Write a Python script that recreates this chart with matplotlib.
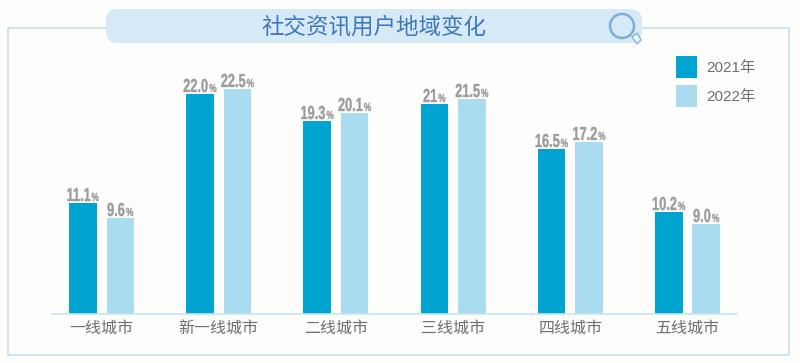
import matplotlib
matplotlib.use("Agg")
import matplotlib.pyplot as plt
from matplotlib.patches import FancyBboxPatch, Rectangle, Circle, Polygon
from matplotlib.patheffects import AbstractPathEffect
from matplotlib.transforms import Affine2D

W, H = 800, 363
categories = ["一线城市", "新一线城市", "二线城市", "三线城市", "四线城市", "五线城市"]
series_names = ["2021年", "2022年"]
values_2021 = [11.1, 22.0, 19.3, 21.0, 16.5, 10.2]
values_2022 = [9.6, 22.5, 20.1, 21.5, 17.2, 9.0]
labels_2021 = ["11.1", "22.0", "19.3", "21", "16.5", "10.2"]
labels_2022 = ["9.6", "22.5", "20.1", "21.5", "17.2", "9.0"]
title = "社交资讯用户地域变化"

BG = "#fdfdfb"
C1 = "#00a4d0"
C2 = "#aadcef"
FRAME = "#c5dff0"
GREY = "#9c9a9c"
cjk = ["Noto Sans CJK SC", "DejaVu Sans"]


class Tall(AbstractPathEffect):
    """Stretch glyphs upward from the baseline to imitate a condensed bold face."""
    def __init__(self, sy, stroke=0.25):
        super().__init__()
        self.sy = sy
        self.stroke = stroke

    def draw_path(self, renderer, gc, tpath, affine, rgbFace=None):
        gc0 = renderer.new_gc()
        gc0.copy_properties(gc)
        gc0.set_linewidth(self.stroke)
        gc0.set_foreground(rgbFace)
        renderer.draw_path(gc0, tpath, Affine2D().scale(1, self.sy) + affine, rgbFace)
        gc0.restore()


fig = plt.figure(figsize=(W / 100, H / 100), dpi=100, facecolor=BG)
renderer = fig.canvas.get_renderer()

# decoration layer in pixel coordinates
bg = fig.add_axes([0, 0, 1, 1])
bg.set_xlim(0, W); bg.set_ylim(H, 0); bg.axis("off")
bg.add_patch(Rectangle((8, 28), 781, 327, fill=False, ec=FRAME, lw=1.2))
bg.add_patch(FancyBboxPatch((106 + 12, 9 + 12), 536 - 24, 34 - 24,
                            boxstyle="round,pad=12", fc="#d5e9f6", ec="none", zorder=2))
bg.text(374, 27, title, family=cjk, fontsize=16.2, color="#3f78b8", ha="center", va="center", zorder=3)
# magnifier
bg.add_patch(Polygon([(632, 37), (637, 33), (641, 40), (637, 44)], fc="#eaf4fb", ec="#86b3da", lw=1, zorder=4))
bg.add_patch(Circle((622, 26), 12, fc="#d5e9f6", ec="#7fadd6", lw=1.8, zorder=5))

# chart axes: x from 52 to 737 px, baseline at y=313.5, 10 px per unit
ax = fig.add_axes([52 / W, 1 - 313.5 / H, 685 / W, 263.5 / H])
ax.patch.set_alpha(0)
x0 = (101.5 - 52) / 117.2
centers = [x0 + i for i in range(len(categories))]
ax.set_xlim(0, 685 / 117.2)
ax.set_ylim(0, 26.35)
off = 18.75 / 117.2
bw = 27.5 / 117.2
b1 = ax.bar([c - off for c in centers], values_2021, bw, color=C1)
b2 = ax.bar([c + off for c in centers], values_2022, bw, color=C2)

for rects, labs in ((b1, labels_2021), (b2, labels_2022)):
    for r, lab in zip(rects, labs):
        xy = (r.get_x() + r.get_width() / 2, r.get_height())
        t1 = ax.annotate(lab, xy, xytext=(0, 1.1), textcoords="offset points", ha="left", va="baseline",
                         family="Liberation Sans", weight="bold", fontsize=9.2, color=GREY)
        t2 = ax.annotate("%", xy, xytext=(0, 1.1), textcoords="offset points", ha="left", va="baseline",
                         family="Liberation Sans", weight="bold", fontsize=6.0, color=GREY)
        w1 = t1.get_window_extent(renderer).width
        w2 = t2.get_window_extent(renderer).width
        start = -(w1 + w2 + 1) / 2
        t1.xyann = (start * 0.72, 1.1)
        t2.xyann = ((start + w1 + 1) * 0.72, 1.1)
        t1.set_path_effects([Tall(1.47)])
        t2.set_path_effects([Tall(1.4)])

for s in ("top", "left", "right"):
    ax.spines[s].set_visible(False)
ax.spines["bottom"].set_color("#c4e6f3")
ax.spines["bottom"].set_linewidth(1.2)
ax.set_yticks([])
ax.set_xticks(centers)
ax.set_xticklabels(categories, family=cjk, fontsize=11.5, color="#6f6f6f")
ax.tick_params(axis="x", length=0, pad=4.5)

# legend
for yy, c, name in ((67, C1, series_names[0]), (96, C2, series_names[1])):
    bg.add_patch(Rectangle((676, yy - 11), 21, 21.5, fc=c, ec="none"))
    bg.text(731, yy + 1, name, family=["Liberation Sans", "Noto Sans CJK SC"], fontsize=11,
            color="#6f6f6f", ha="center", va="center")

fig.savefig("out.png", dpi=100, facecolor=BG)
